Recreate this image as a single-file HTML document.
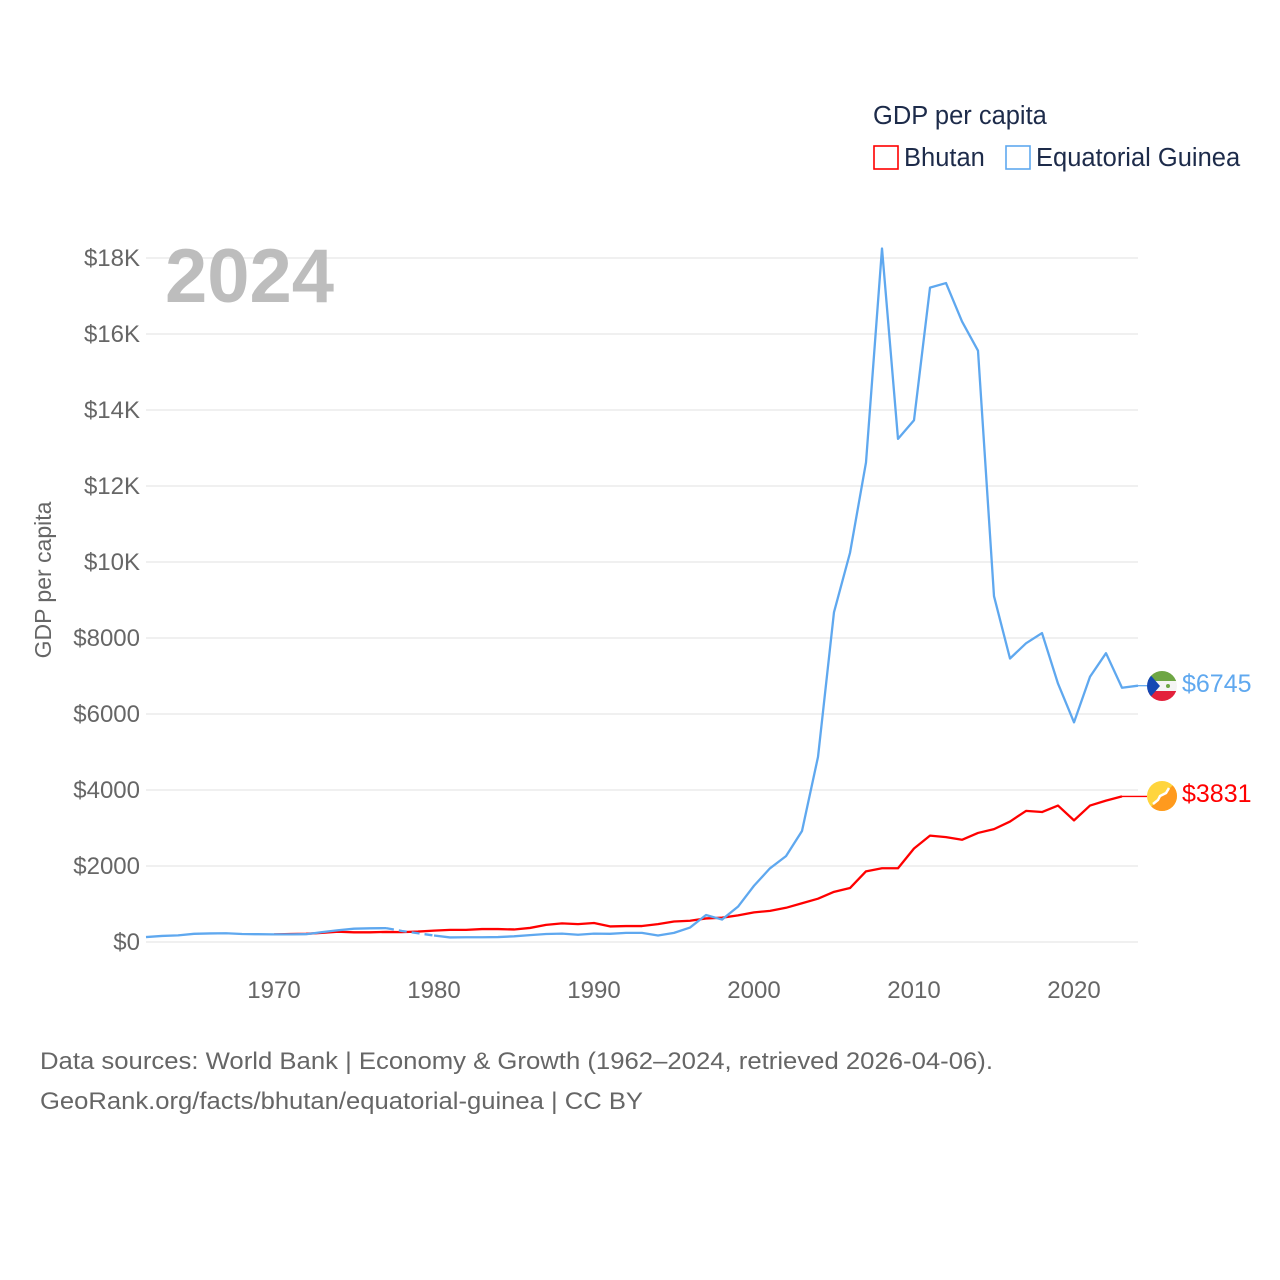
<!DOCTYPE html>
<html><head><meta charset="utf-8">
<style>
body{margin:0;background:#fff;}
svg{display:block;font-family:"Liberation Sans",sans-serif;}
</style></head>
<body>
<svg id="chart" width="1280" height="1280" viewBox="0 0 1280 1280">
  <g id="grid"></g>
  <g id="yticks"></g>
  <g id="xticks"></g>
  <text x="165" y="302" font-size="76" font-weight="bold" fill="#bdbdbd">2024</text>
  <text transform="translate(51,580) rotate(-90)" text-anchor="middle" font-size="23" fill="#666">GDP per capita</text>
  <g>
    <text x="873" y="124" font-size="25.5" fill="#1d2b4a">GDP per capita</text>
    <g>
      <rect x="874" y="146" width="24" height="23" fill="none" stroke="#ff0000" stroke-width="1.6"/>
      <text x="904" y="166" font-size="25.5" fill="#1d2b4a">Bhutan</text>
    </g>
    <g>
      <rect x="1006" y="146" width="24" height="23" fill="none" stroke="#5fa8ef" stroke-width="1.6"/>
      <text x="1036" y="166" font-size="25.5" fill="#1d2b4a">Equatorial Guinea</text>
    </g>
  </g>
  <g id="series"></g>
  <g>
    <g>
      <clipPath id="c1"><circle cx="1162" cy="686" r="15"/></clipPath>
      <g clip-path="url(#c1)">
        <rect x="1147" y="671" width="30" height="10" fill="#6ea644"/>
        <rect x="1147" y="681" width="30" height="10" fill="#f4f4f4"/>
        <rect x="1147" y="691" width="30" height="10" fill="#e3213b"/>
        <polygon points="1147,671 1160,686 1147,701" fill="#1448b3"/>
        <circle cx="1168" cy="686" r="2" fill="#6ea644"/>
      </g>
    </g>
    <text x="1182" y="692" font-size="25" fill="#5fa8ef">$6745</text>
    <g>
      <clipPath id="c2"><circle cx="1162" cy="796" r="15"/></clipPath>
      <g clip-path="url(#c2)">
        <rect x="1147" y="781" width="30" height="30" fill="#ffd53d"/>
        <polygon points="1177,781 1177,811 1147,811" fill="#ff9a1e"/>
        <path d="M1153 804 L1158 800 L1160 796 L1166 793 L1169 788" stroke="#fff" stroke-width="2.5" fill="none"/>
      </g>
    </g>
    <text x="1182" y="802" font-size="25" fill="#ff0000">$3831</text>
  </g>
  <text x="40" y="1069" font-size="24" fill="#666" textLength="953" lengthAdjust="spacingAndGlyphs">Data sources: World Bank | Economy &amp; Growth (1962–2024, retrieved 2026-04-06).</text>
  <text x="40" y="1109" font-size="24" fill="#666" textLength="603" lengthAdjust="spacingAndGlyphs">GeoRank.org/facts/bhutan/equatorial-guinea | CC BY</text>
</svg>
<script>
const yTicks = [0,2000,4000,6000,8000,10000,12000,14000,16000,18000];
const yTickLabels = ["$0","$2000","$4000","$6000","$8000","$10K","$12K","$14K","$16K","$18K"];
const xTicks = [1970,1980,1990,2000,2010,2020];
const bhutanYears = [1970,1971,1972,1973,1974,1975,1976,1977,1978,1979,1980,1981,1982,1983,1984,1985,1986,1987,1988,1989,1990,1991,1992,1993,1994,1995,1996,1997,1998,1999,2000,2001,2002,2003,2004,2005,2006,2007,2008,2009,2010,2011,2012,2013,2014,2015,2016,2017,2018,2019,2020,2021,2022,2023];
const bhutanValues = [200,210,215,240,270,255,255,265,260,275,300,320,320,340,340,330,370,450,490,470,500,410,420,420,470,540,560,620,640,700,780,820,900,1020,1140,1320,1420,1860,1940,1940,2460,2800,2760,2690,2870,2970,3170,3450,3420,3590,3200,3590,3720,3831];
const egYears = [1962,1963,1964,1965,1966,1967,1968,1969,1970,1971,1972,1973,1974,1975,1976,1977,1978,1979,1980,1981,1982,1983,1984,1985,1986,1987,1988,1989,1990,1991,1992,1993,1994,1995,1996,1997,1998,1999,2000,2001,2002,2003,2004,2005,2006,2007,2008,2009,2010,2011,2012,2013,2014,2015,2016,2017,2018,2019,2020,2021,2022,2023,2024];
const egValues = [130,160,175,215,225,230,210,205,200,200,205,260,310,350,360,365,290,230,170,120,125,125,130,150,180,210,220,190,220,215,240,240,170,240,380,710,590,930,1480,1940,2260,2920,4870,8680,10240,12620,18250,13240,13730,17220,17340,16330,15560,9100,7460,7860,8130,6800,5780,6980,7600,6690,6745];
const egDashedFrom = 1977, egDashedTo = 1980;

const NS="http://www.w3.org/2000/svg";
const xS = yr => 146 + (yr-1962)*16;
const yS = v => 942 - v*0.038;
function mk(tag, attrs, parent){const e=document.createElementNS(NS,tag);for(const k in attrs)e.setAttribute(k,attrs[k]);parent.appendChild(e);return e;}
const grid=document.getElementById('grid'), yt=document.getElementById('yticks'), xt=document.getElementById('xticks'), series=document.getElementById('series');
yTicks.forEach((v,i)=>{
  const l=mk('line',{x1:146,x2:1138,y1:yS(v),y2:yS(v),stroke:'#e6e6e6','stroke-width':1.3},grid);
  
  
  const t=mk('text',{x:140,y:yS(v)+8,'text-anchor':'end','font-size':24,fill:'#666'},yt);
  t.textContent=yTickLabels[i];
  
  
});
xTicks.forEach(yr=>{
  const t=mk('text',{x:xS(yr),y:998,'text-anchor':'middle','font-size':24,fill:'#666'},xt);
  t.textContent=yr;
  
  
});
function pts(ys,vs,f){return ys.map((y,i)=>f(y)?xS(y)+','+yS(vs[i]):null).filter(Boolean).join(' ');}
let b=mk('polyline',{points:pts(bhutanYears,bhutanValues,()=>true),fill:'none',stroke:'#ff0000','stroke-width':2.3,'stroke-linejoin':'round'},series);


const bl=bhutanValues[bhutanValues.length-1];
let bc=mk('line',{x1:xS(bhutanYears[bhutanYears.length-1]),x2:1147,y1:yS(bl),y2:yS(bl),stroke:'#ff0000','stroke-width':1.3},series);


const eg1=mk('polyline',{points:pts(egYears,egValues,y=>y<=egDashedFrom),fill:'none',stroke:'#5fa8ef','stroke-width':2.3,'stroke-linejoin':'round'},series);


const eg2=mk('polyline',{points:pts(egYears,egValues,y=>y>=egDashedFrom&&y<=egDashedTo),fill:'none',stroke:'#5fa8ef','stroke-width':2.3,'stroke-dasharray':'8,5'},series);


const eg3=mk('polyline',{points:pts(egYears,egValues,y=>y>=egDashedTo),fill:'none',stroke:'#5fa8ef','stroke-width':2.3,'stroke-linejoin':'round'},series);


const el=egValues[egValues.length-1];
let ec=mk('line',{x1:xS(egYears[egYears.length-1]),x2:1147,y1:yS(el),y2:yS(el),stroke:'#5fa8ef','stroke-width':1.3},series);


</script>
</body></html>
